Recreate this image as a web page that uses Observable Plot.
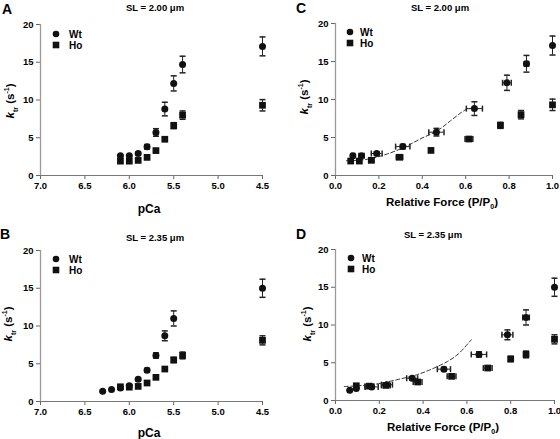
<!DOCTYPE html>
<html>
<head>
<meta charset="utf-8">
<script src="https://cdn.jsdelivr.net/npm/d3@7"></script>
<script src="https://cdn.jsdelivr.net/npm/@observablehq/plot@0.6"></script>
<style>
  body { margin: 0; background: #fff; }
  #wrap { position: relative; width: 560px; height: 439px; overflow: hidden; font-family: "Liberation Sans", Arial, sans-serif; color: #000; }
  .pane { position: absolute; }
  .lbl { position: absolute; font-weight: bold; white-space: nowrap; transform: translate(-50%, -50%); }
  .ylab { position: absolute; font-weight: bold; white-space: nowrap; font-size: 11.5px; transform: translate(-50%, -50%) rotate(-90deg); }
  .ylab sub, .lbl sub { font-size: 7px; }
  .ylab sup { font-size: 7px; }
  .letter { position: absolute; font-weight: bold; font-size: 14px; }
</style>
</head>
<body>
<div id="wrap"></div>
<script>
// ---------- data ----------
// Panel A (SL = 2.00 µm), k_tr vs pCa
const pCaA = [6.1, 6.0, 5.9, 5.8, 5.7, 5.6, 5.5, 5.4, 4.5];
const ktrWtA = [2.6, 2.6, 2.9, 3.8, 5.7, 8.8, 12.2, 14.7, 17.1];
const errWtA = [0, 0, 0.2, 0.3, 0.5, 0.9, 1.0, 1.1, 1.25];
const ktrHoA = [1.9, 1.9, 2.0, 2.4, 3.3, 4.8, 6.6, 8.0, 9.3];
const errHoA = [0, 0, 0, 0.2, 0.2, 0.2, 0.4, 0.55, 0.75];

// Panel B (SL = 2.35 µm), k_tr vs pCa
const pCaWtB = [6.3, 6.2, 6.1, 6.0, 5.9, 5.8, 5.7, 5.6, 5.5, 4.5];
const ktrWtB = [1.35, 1.6, 1.8, 2.1, 2.95, 4.15, 6.1, 8.7, 11.0, 15.0];
const errWtB = [0, 0, 0, 0, 0.2, 0.25, 0.35, 0.65, 1.0, 1.2];
const pCaHoB = [6.1, 6.0, 5.9, 5.8, 5.7, 5.6, 5.5, 5.4, 4.5];
const ktrHoB = [1.95, 1.9, 2.0, 2.45, 3.2, 4.3, 5.5, 6.1, 8.1];
const errHoB = [0, 0, 0, 0, 0, 0, 0.35, 0.45, 0.6];

// Panel C (SL = 2.00 µm), k_tr vs relative force
const forceWtC = [0.08, 0.12, 0.19, 0.31, 0.465, 0.64, 0.79, 0.88, 1.0];
const fErrWtC = [0.008, 0.012, 0.025, 0.033, 0.035, 0.037, 0.02, 0.01, 0];
const forceHoC = [0.07, 0.11, 0.165, 0.295, 0.44, 0.615, 0.76, 0.855, 1.0];
const fErrHoC = [0, 0, 0.012, 0.015, 0, 0.018, 0.01, 0.01, 0];
const fitForceC = [0.05, 0.1, 0.16, 0.24, 0.32, 0.39, 0.47, 0.53, 0.58, 0.61];
const fitKtrC = [1.95, 2.0, 2.2, 2.85, 3.75, 4.8, 5.9, 7.2, 8.3, 8.85];

// Panel D (SL = 2.35 µm), k_tr vs relative force
const forceWtD = [0.065, 0.095, 0.165, 0.235, 0.35, 0.495, 0.655, 0.785, 0.87, 1.0];
const fErrWtD = [0, 0, 0.03, 0.025, 0.025, 0.03, 0.035, 0.025, 0.015, 0];
const forceHoD = [0.095, 0.155, 0.23, 0.375, 0.53, 0.695, 0.8, 0.87, 1.0];
const fErrHoD = [0, 0.02, 0.02, 0.02, 0.02, 0.02, 0.01, 0.01, 0];
const fitForceD = [0.04, 0.1, 0.18, 0.28, 0.37, 0.43, 0.51, 0.56, 0.62];
const fitKtrD = [1.85, 1.95, 2.15, 2.75, 3.4, 4.05, 5.15, 6.15, 8.05];

const pCaTicks = [7.0, 6.5, 6.0, 5.5, 5.0, 4.5];
const forceTicks = [0.0, 0.2, 0.4, 0.6, 0.8, 1.0];
const ktrTicks = [0, 5, 10, 15, 20];
const seriesNames = ["Wt", "Ho"];

// ---------- helpers ----------
const rows = (xs, ys, ye, xe) => xs.map((x, i) => ({x, y: ys[i], ye: ye ? ye[i] : 0, xe: xe ? xe[i] : 0}));
const hcap = {draw(ctx) { ctx.moveTo(-3, 0); ctx.lineTo(3, 0); }};
const vcap = {draw(ctx) { ctx.moveTo(0, -3); ctx.lineTo(0, 3); }};
const barColor = "#222";

function errMarks(data) {
  const v = data.filter(d => d.ye > 0);
  const h = data.filter(d => d.xe > 0);
  return [
    Plot.ruleX(v, {x: "x", y1: d => d.y - d.ye, y2: d => d.y + d.ye, stroke: barColor, strokeWidth: 1}),
    Plot.dot(v, {x: "x", y: d => d.y + d.ye, symbol: hcap, r: 3, stroke: barColor, fill: "none"}),
    Plot.dot(v, {x: "x", y: d => d.y - d.ye, symbol: hcap, r: 3, stroke: barColor, fill: "none"}),
    Plot.ruleY(h, {y: "y", x1: d => d.x - d.xe, x2: d => d.x + d.xe, stroke: barColor, strokeWidth: 1}),
    Plot.dot(h, {x: d => d.x + d.xe, y: "y", symbol: vcap, r: 3, stroke: barColor, fill: "none"}),
    Plot.dot(h, {x: d => d.x - d.xe, y: "y", symbol: vcap, r: 3, stroke: barColor, fill: "none"})
  ];
}

function panel({wt, ho, xDomain, xTicks, fit, w, h, ml, mr, mt, mb, legend}) {
  const marks = [
    Plot.axisX({ticks: xTicks, tickFormat: d3.format(".1f"), tickSize: 4, tickPadding: 3, label: null, stroke: "#666"}),
    Plot.axisY({ticks: ktrTicks, tickSize: 4, tickPadding: 3, label: null, stroke: "#666"}),
    Plot.ruleY([0], {stroke: "#777"}),
    Plot.ruleX([xDomain[0]], {stroke: "#999", strokeWidth: 1.3})
  ];
  if (fit) marks.push(Plot.line(fit, {x: "x", y: "y", stroke: "#333", strokeWidth: 1, strokeDasharray: "4,2.5", curve: "catmull-rom"}));
  marks.push(...errMarks(wt), ...errMarks(ho));
  marks.push(Plot.dot(ho, {x: "x", y: "y", symbol: "square", r: 3.8, fill: "#111", stroke: "none"}));
  marks.push(Plot.dot(wt, {x: "x", y: "y", symbol: "circle", r: 3.5, fill: "#111", stroke: "none"}));
  const svg = Plot.plot({
    width: w, height: h,
    marginLeft: ml, marginRight: mr, marginTop: mt, marginBottom: mb,
    style: {fontFamily: "'Liberation Sans', Arial, sans-serif", fontSize: "9.5px", fontWeight: "bold", color: "#000", background: "transparent"},
    x: {domain: xDomain},
    y: {domain: [0, 20]},
    marks
  });
  // legend
  const g = d3.select(svg).append("g").attr("text-anchor", "start");
  g.append("circle").attr("cx", legend[0]).attr("cy", legend[1]).attr("r", 3.3).attr("fill", "#111");
  g.append("rect").attr("x", legend[0] - 3.3).attr("y", legend[1] + 11 - 3.3).attr("width", 6.6).attr("height", 6.6).attr("fill", "#111");
  g.append("text").attr("x", legend[2]).attr("y", legend[1]).attr("dy", "0.35em").attr("font-size", 10).attr("font-weight", "bold").attr("text-anchor", "start").text(seriesNames[0]);
  g.append("text").attr("x", legend[2]).attr("y", legend[1] + 11).attr("dy", "0.35em").attr("font-size", 10).attr("font-weight", "bold").attr("text-anchor", "start").text(seriesNames[1]);
  return svg;
}

const wrap = document.getElementById("wrap");
function place(el, left, top) {
  const d = document.createElement("div");
  d.className = "pane";
  d.style.left = left + "px"; d.style.top = top + "px";
  d.appendChild(el); wrap.appendChild(d);
}
function html(cls, x, y, inner, size) {
  const d = document.createElement("div");
  d.className = cls;
  d.style.left = x + "px"; d.style.top = y + "px";
  if (size) d.style.fontSize = size + "px";
  d.innerHTML = inner;
  wrap.appendChild(d);
}

// A
place(panel({wt: rows(pCaA, ktrWtA, errWtA), ho: rows(pCaA, ktrHoA, errHoA), xDomain: [7.0, 4.5], xTicks: pCaTicks,
  w: 280, h: 220, ml: 40, mr: 18, mt: 24, mb: 45, legend: [56, 34, 69]}), 0, 0);
// B
place(panel({wt: rows(pCaWtB, ktrWtB, errWtB), ho: rows(pCaHoB, ktrHoB, errHoB), xDomain: [7.0, 4.5], xTicks: pCaTicks,
  w: 280, h: 219, ml: 40, mr: 18, mt: 30, mb: 38, legend: [56, 39, 69]}), 0, 220);
// C
place(panel({wt: rows(forceWtC, ktrWtA, errWtA, fErrWtC), ho: rows(forceHoC, ktrHoA, errHoA, fErrHoC), xDomain: [0, 1], xTicks: forceTicks,
  fit: rows(fitForceC, fitKtrC), w: 280, h: 220, ml: 55, mr: 8, mt: 23, mb: 45, legend: [70, 32, 80]}), 280, 0);
// D
place(panel({wt: rows(forceWtD, ktrWtB, errWtB, fErrWtD), ho: rows(forceHoD, ktrHoB, errHoB, fErrHoD), xDomain: [0, 1], xTicks: forceTicks,
  fit: rows(fitForceD, fitKtrD), w: 280, h: 219, ml: 55, mr: 6, mt: 29, mb: 39, legend: [71, 38, 82]}), 280, 220);

// texts
html("letter", 2, 1, "A"); html("letter", 296, 0, "C");
html("letter", 0, 226, "B"); html("letter", 296, 226, "D");
html("lbl", 155, 7, "SL = 2.00 \u03bcm", 9.5);
html("lbl", 440, 7, "SL = 2.00 \u03bcm", 9.5);
html("lbl", 155, 237, "SL = 2.35 \u03bcm", 9.5);
html("lbl", 433, 234, "SL = 2.35 \u03bcm", 9.5);
html("lbl", 149, 209, "pCa", 12);
html("lbl", 149, 433, "pCa", 12);
html("lbl", 442, 203, "Relative Force (P/P<sub>0</sub>)", 11.5);
html("lbl", 443, 428, "Relative Force (P/P<sub>0</sub>)", 11.5);
const ylabText = "<i>k</i><sub>tr</sub> (s<sup>-1</sup>)";
html("ylab", 11, 101, ylabText); html("ylab", 305, 97, ylabText);
html("ylab", 9, 324, ylabText); html("ylab", 308, 324, ylabText);
</script>
</body>
</html>
